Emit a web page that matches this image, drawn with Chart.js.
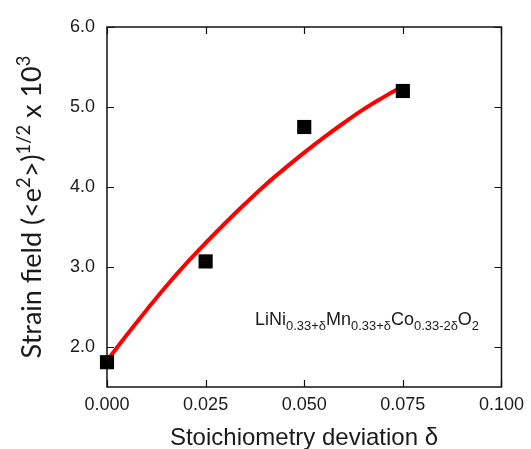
<!DOCTYPE html>
<html>
<head>
<meta charset="utf-8">
<script src="https://cdn.jsdelivr.net/npm/chart.js@4.4.0/dist/chart.umd.min.js"></script>
<style>
    html, body { margin: 0; padding: 0; background: #fff; }
    #chartBox { width: 531px; height: 449px; }
</style>
</head>
<body>
<div id="chartBox"><canvas id="chart" width="531" height="449"></canvas></div>
<script>
// 측정값 (δ, strain field)
var deltaMeasured = [0.000, 0.025, 0.050, 0.075];
var strainMeasured = [1.81, 3.07, 4.75, 5.20];

// 피팅 곡선
var deltaFit = [0.000, 0.005, 0.010, 0.015, 0.020, 0.025, 0.030, 0.035, 0.040, 0.045, 0.050, 0.055, 0.060, 0.065, 0.070, 0.075];
var strainFit = [1.83, 2.15, 2.46, 2.76, 3.04, 3.30, 3.55, 3.79, 4.02, 4.23, 4.43, 4.62, 4.80, 4.97, 5.12, 5.26];

// 축 눈금
var xTicks = [0.000, 0.025, 0.050, 0.075, 0.100];
var yTicks = [2.0, 3.0, 4.0, 5.0, 6.0];

var TEXT_COLOR = '#1a1a1a';
var ARIAL = '"Liberation Sans", Arial, sans-serif';

function toPoints(xs, ys) {
    var pts = [];
    for (var i = 0; i < xs.length; i++) {
        pts.push({x: xs[i], y: ys[i]});
    }
    return pts;
}

// 위/아래 첨자 포함 텍스트 (왼쪽 기준선에서 그림)
function richWidth(ctx, parts, size, ratio, family) {
    var w = 0;
    for (var i = 0; i < parts.length; i++) {
        var s = parts[i].s ? size * ratio : size;
        ctx.font = s + 'px ' + family;
        w += ctx.measureText(parts[i].t).width;
    }
    return w;
}

function drawRich(ctx, parts, x, y, size, ratio, family) {
    for (var i = 0; i < parts.length; i++) {
        var p = parts[i];
        var s = p.s ? size * ratio : size;
        var dy = 0;
        if (p.s === 'sup') dy = -size * 0.42;
        if (p.s === 'sub') dy = size * 0.28;
        ctx.font = s + 'px ' + family;
        ctx.fillText(p.t, x, y + dy);
        x += ctx.measureText(p.t).width;
    }
}

var yTitle = [
    {t: 'Strain field (<e'}, {t: '2', s: 'sup'}, {t: '>)'}, {t: '1/2', s: 'sup'},
    {t: ' x 10'}, {t: '3', s: 'sup'}
];

var formula = [
    {t: 'LiNi'}, {t: '0.33+\u03b4', s: 'sub'}, {t: 'Mn'}, {t: '0.33+\u03b4', s: 'sub'},
    {t: 'Co'}, {t: '0.33-2\u03b4', s: 'sub'}, {t: 'O'}, {t: '2', s: 'sub'}
];

var frame = {
    id: 'frame',
    beforeDatasetsDraw: function (chart) {
        var ctx = chart.ctx;
        var a = chart.chartArea;
        var xs = chart.scales.x;
        var ys = chart.scales.y;
        var tl = 7;

        ctx.save();
        ctx.strokeStyle = '#111';
        ctx.lineWidth = 1.5;
        ctx.strokeRect(a.left, a.top, a.right - a.left, a.bottom - a.top);

        // 안쪽 눈금 (네 변)
        ctx.beginPath();
        xTicks.forEach(function (v) {
            var px = Math.round(xs.getPixelForValue(v)) + 0.5;
            ctx.moveTo(px, a.bottom);
            ctx.lineTo(px, a.bottom - tl);
            ctx.moveTo(px, a.top);
            ctx.lineTo(px, a.top + tl);
        });
        yTicks.forEach(function (v) {
            var py = Math.round(ys.getPixelForValue(v)) + 0.5;
            ctx.moveTo(a.left, py);
            ctx.lineTo(a.left + tl, py);
            ctx.moveTo(a.right, py);
            ctx.lineTo(a.right - tl, py);
        });
        ctx.lineWidth = 1.2;
        ctx.stroke();

        ctx.fillStyle = TEXT_COLOR;
        ctx.textBaseline = 'alphabetic';
        ctx.textAlign = 'left';

        // 조성식
        drawRich(ctx, formula, xs.getPixelForValue(0.0375), ys.getPixelForValue(2.28), 18, 0.72, ARIAL);

        // x축 제목
        ctx.font = '24px ' + ARIAL;
        ctx.textAlign = 'center';
        ctx.fillText('Stoichiometry deviation \u03b4', 304, 445);

        // y축 제목
        ctx.textAlign = 'left';
        var fam = 'Lato, "Open Sans", sans-serif';
        var w = richWidth(ctx, yTitle, 27, 0.68, fam);
        ctx.translate(41, (a.top + a.bottom) / 2);
        ctx.rotate(-Math.PI / 2);
        drawRich(ctx, yTitle, -w / 2, 0, 27, 0.68, fam);
        ctx.restore();
    }
};

new Chart(document.getElementById('chart'), {
    type: 'scatter',
    data: {
        datasets: [{
            label: 'measured',
            data: toPoints(deltaMeasured, strainMeasured),
            pointStyle: 'rect',
            pointRadius: 10,
            pointHoverRadius: 10,
            backgroundColor: '#000',
            borderColor: '#000',
            borderWidth: 0,
            clip: false,
            order: 0
        }, {
            label: 'fit',
            data: toPoints(deltaFit, strainFit),
            showLine: true,
            borderColor: '#ff0000',
            borderWidth: 4,
            pointRadius: 0,
            tension: 0.4,
            order: 1
        }]
    },
    options: {
        responsive: false,
        animation: false,
        maintainAspectRatio: false,
        layout: {padding: {left: 0, right: 25, top: 27, bottom: 0}},
        plugins: {legend: {display: false}, tooltip: {enabled: false}},
        scales: {
            x: {
                type: 'linear',
                min: 0,
                max: 0.1,
                grid: {display: false, drawTicks: false},
                border: {display: false},
                afterBuildTicks: function (s) {
                    s.ticks = xTicks.map(function (v) { return {value: v}; });
                },
                afterFit: function (s) { s.height = 62; },
                ticks: {
                    padding: 7,
                    color: TEXT_COLOR,
                    font: {family: ARIAL, size: 18},
                    maxRotation: 0,
                    callback: function (v) { return v.toFixed(3); }
                }
            },
            y: {
                type: 'linear',
                min: 1.5,
                max: 6.0,
                grid: {display: false, drawTicks: false},
                border: {display: false},
                afterBuildTicks: function (s) {
                    s.ticks = yTicks.map(function (v) { return {value: v}; });
                },
                afterFit: function (s) { s.width = 107; },
                ticks: {
                    padding: 12,
                    color: TEXT_COLOR,
                    font: {family: ARIAL, size: 18},
                    callback: function (v) { return v.toFixed(1); }
                }
            }
        }
    },
    plugins: [frame]
});
</script>
</body>
</html>
